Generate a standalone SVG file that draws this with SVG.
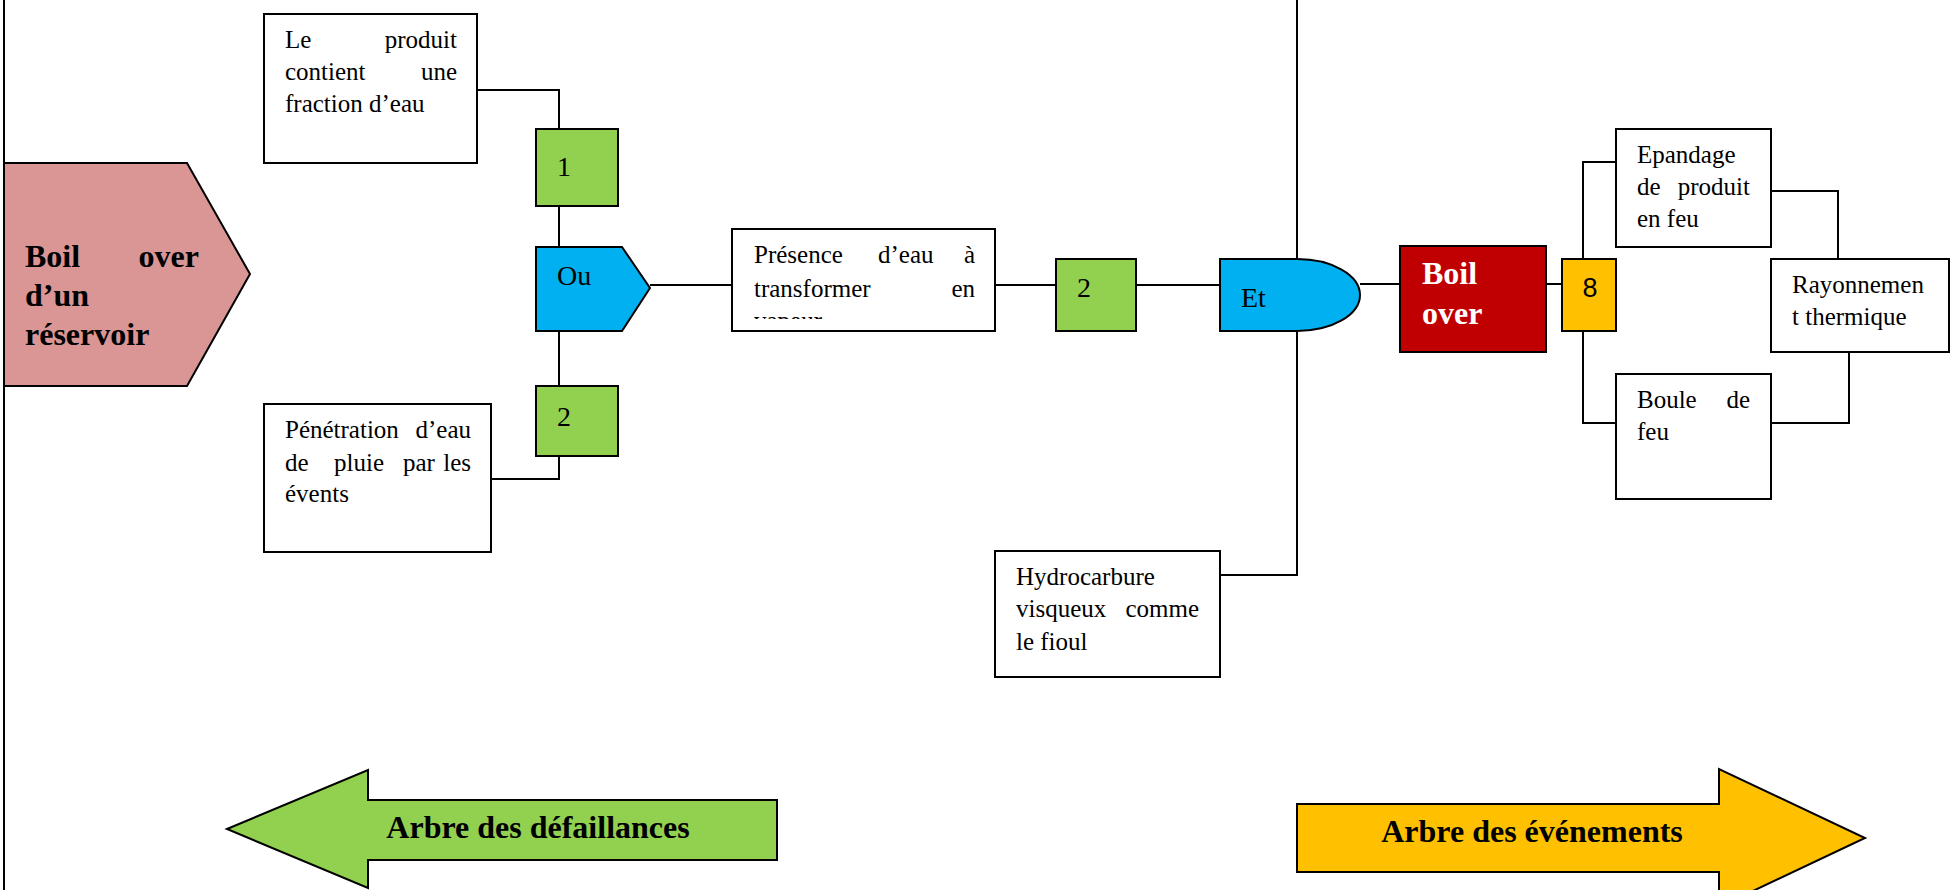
<svg xmlns="http://www.w3.org/2000/svg" width="1950" height="890" viewBox="0 0 1950 890">
<defs>
<style>
.box{fill:#fff;stroke:#000;stroke-width:2}
.green{fill:#92D050;stroke:#000;stroke-width:2}
.blue{fill:#00B0F0;stroke:#000;stroke-width:2}
.t{font-family:"Liberation Serif","DejaVu Serif",serif;font-size:25px;fill:#000}
.e{text-anchor:end}
.num{font-family:"Liberation Serif","DejaVu Serif",serif;font-size:28px;fill:#000}
.b{font-family:"Liberation Serif","DejaVu Serif",serif;font-weight:bold;font-size:32px;fill:#000}
.w{fill:#fff}
.line{fill:none;stroke:#000;stroke-width:2}
</style>
<clipPath id="clipPres"><rect x="732" y="229" width="263" height="90"/></clipPath>
</defs>
<rect x="0" y="0" width="1950" height="890" fill="#fff"/>

<g id="connectors">
<line class="line" x1="4" y1="0" x2="4" y2="890"/>
<line class="line" x1="1297" y1="0" x2="1297" y2="259"/>
<polyline class="line" points="477,90 559,90 559,129"/>
<line class="line" x1="559" y1="206" x2="559" y2="247"/>
<line class="line" x1="559" y1="331" x2="559" y2="386"/>
<polyline class="line" points="559,456 559,479 491,479"/>
<line class="line" x1="650" y1="285" x2="732" y2="285"/>
<line class="line" x1="995" y1="285" x2="1056" y2="285"/>
<line class="line" x1="1136" y1="285" x2="1220" y2="285"/>
<polyline class="line" points="1297,331 1297,575 1220,575"/>
<line class="line" x1="1360" y1="284" x2="1400" y2="284"/>
<line class="line" x1="1546" y1="284" x2="1562" y2="284"/>
<polyline class="line" points="1583,259 1583,162 1616,162"/>
<polyline class="line" points="1583,331 1583,423 1616,423"/>
<polyline class="line" points="1771,191 1838,191 1838,259"/>
<polyline class="line" points="1771,423 1849,423 1849,352"/>
</g>

<g id="top-event">
<polygon points="4,163 187,163 250,274 187,386 4,386" fill="#D99694" stroke="#000" stroke-width="2"/>
<text class="b" x="25" y="267">Boil</text>
<text class="b e" x="199" y="267">over</text>
<text class="b" x="25" y="306">d’un</text>
<text class="b" x="25" y="345">réservoir</text>
</g>

<g id="node-produit">
<rect class="box" x="264" y="14" width="213" height="149"/>
<text class="t" x="285" y="48">Le</text>
<text class="t e" x="457" y="48">produit</text>
<text class="t" x="285" y="80">contient</text>
<text class="t e" x="457" y="80">une</text>
<text class="t" x="285" y="112">fraction d’eau</text>
</g>

<g id="node-1">
<rect class="green" x="536" y="129" width="82" height="77"/>
<text class="num" x="557" y="176">1</text>
</g>

<g id="gate-ou">
<polygon class="blue" points="536,247 622,247 650,288 622,331 536,331"/>
<text class="num" x="557" y="285">Ou</text>
</g>

<g id="node-2a">
<rect class="green" x="536" y="386" width="82" height="70"/>
<text class="num" x="557" y="426">2</text>
</g>

<g id="node-penetration">
<rect class="box" x="264" y="404" width="227" height="148"/>
<text class="t" x="285" y="438">Pénétration</text>
<text class="t e" x="471" y="438">d’eau</text>
<text class="t" x="285" y="471">de</text>
<text class="t" x="334" y="471">pluie</text>
<text class="t" x="403" y="471">par</text>
<text class="t e" x="471" y="471">les</text>
<text class="t" x="285" y="502">évents</text>
</g>

<g id="node-presence">
<rect class="box" x="732" y="229" width="263" height="102"/>
<g clip-path="url(#clipPres)">
<text class="t" x="754" y="263">Présence</text>
<text class="t" x="878" y="263">d’eau</text>
<text class="t e" x="975" y="263">à</text>
<text class="t" x="754" y="297">transformer</text>
<text class="t e" x="975" y="297">en</text>
<text class="t" x="754" y="329">vapeur</text>
</g>
</g>

<g id="node-2b">
<rect class="green" x="1056" y="259" width="80" height="72"/>
<text class="num" x="1077" y="297">2</text>
</g>

<g id="gate-et">
<path class="blue" d="M1220,259 H1297 A63,36 0 0 1 1297,331 H1220 Z"/>
<text class="num" x="1241" y="307">Et</text>
</g>

<g id="node-hydro">
<rect class="box" x="995" y="551" width="225" height="126"/>
<text class="t" x="1016" y="585">Hydrocarbure</text>
<text class="t" x="1016" y="617">visqueux</text>
<text class="t e" x="1199" y="617">comme</text>
<text class="t" x="1016" y="650">le fioul</text>
</g>

<g id="node-boilover">
<rect x="1400" y="246" width="146" height="106" fill="#C00000" stroke="#000" stroke-width="2"/>
<text class="b w" x="1422" y="284">Boil</text>
<text class="b w" x="1422" y="324">over</text>
</g>

<g id="node-8">
<rect x="1562" y="259" width="54" height="72" fill="#FFC000" stroke="#000" stroke-width="2"/>
<text x="1590" y="297" text-anchor="middle" font-family="Liberation Sans, Arial, sans-serif" font-size="27">8</text>
</g>

<g id="node-epandage">
<rect class="box" x="1616" y="129" width="155" height="118"/>
<text class="t" x="1637" y="163">Epandage</text>
<text class="t" x="1637" y="195">de</text>
<text class="t e" x="1750" y="195">produit</text>
<text class="t" x="1637" y="227">en feu</text>
</g>

<g id="node-boule">
<rect class="box" x="1616" y="374" width="155" height="125"/>
<text class="t" x="1637" y="408">Boule</text>
<text class="t e" x="1750" y="408">de</text>
<text class="t" x="1637" y="440">feu</text>
</g>

<g id="node-rayonnement">
<rect class="box" x="1771" y="259" width="178" height="93"/>
<text class="t" x="1792" y="293">Rayonnemen</text>
<text class="t" x="1792" y="325">t thermique</text>
</g>

<g id="arrow-defaillances">
<polygon points="227,829 368,770 368,800 777,800 777,860 368,860 368,888" fill="#92D050" stroke="#000" stroke-width="2"/>
<text class="b" x="538" y="838" text-anchor="middle">Arbre des défaillances</text>
</g>

<g id="arrow-evenements">
<polygon points="1297,804 1719,804 1719,769 1865,838 1719,907 1719,872 1297,872" fill="#FFC000" stroke="#000" stroke-width="2"/>
<text class="b" x="1532" y="842" text-anchor="middle">Arbre des événements</text>
</g>
</svg>
